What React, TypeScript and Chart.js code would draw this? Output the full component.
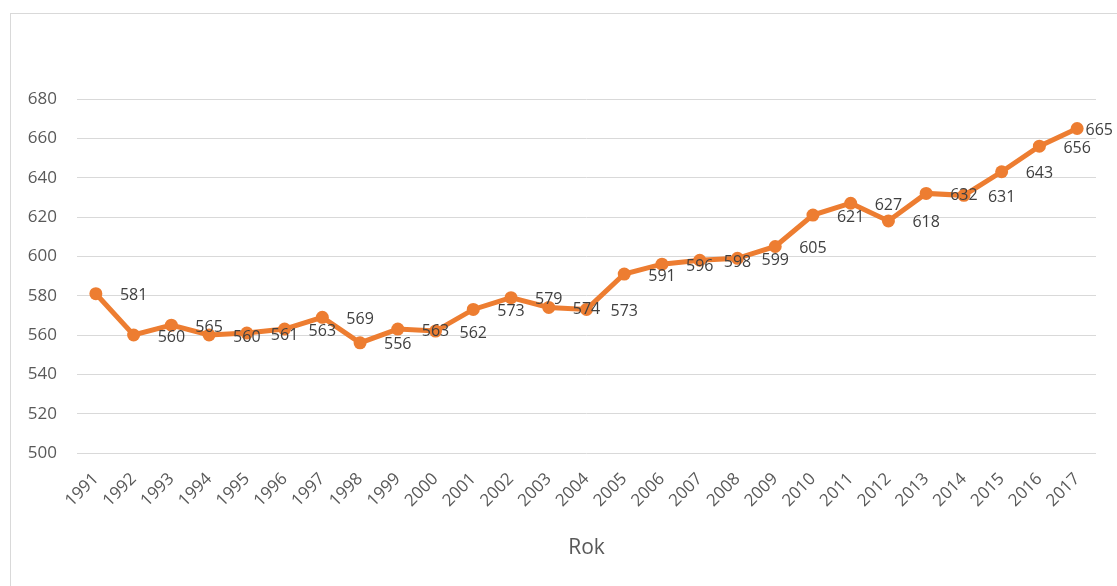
import React, { useEffect, useRef } from "react";
import { Chart, registerables } from "chart.js";

Chart.register(...registerables);

const years: string[] = [
  "1991", "1992", "1993", "1994", "1995", "1996", "1997", "1998", "1999", "2000",
  "2001", "2002", "2003", "2004", "2005", "2006", "2007", "2008", "2009", "2010",
  "2011", "2012", "2013", "2014", "2015", "2016", "2017",
];
const values: number[] = [
  581, 560, 565, 560, 561, 563, 569, 556, 563, 562,
  573, 579, 574, 573, 591, 596, 598, 599, 605, 621,
  627, 618, 632, 631, 643, 656, 665,
];
const yMin = 500;
const yMax = 680;
const yStep = 20;
const xTitle = "Rok";

const FONT = "'Open Sans', 'Noto Sans', sans-serif";

const labelPlugin = {
  id: "shiftedLabels",
  afterDatasetsDraw(chart: any) {
    const { ctx } = chart;
    const xs = chart.scales.x;
    const ys = chart.scales.y;
    const step = xs.getPixelForValue(1) - xs.getPixelForValue(0);
    ctx.save();
    ctx.font = `16px ${FONT}`;
    ctx.fillStyle = "#404040";
    ctx.textAlign = "center";
    ctx.textBaseline = "middle";
    values.forEach((v, i) => {
      let x = xs.getPixelForValue(i) + step;
      const w = ctx.measureText(String(v)).width;
      const maxX = chart.width - w / 2 - 4;
      if (x > maxX) x = maxX;
      const y = ys.getPixelForValue(v) + 2;
      ctx.fillText(String(v), x, y);
    });
    ctx.restore();
  },
};

export default function App() {
  const ref = useRef<HTMLCanvasElement | null>(null);

  useEffect(() => {
    if (!ref.current) return;
    const chart = new Chart(ref.current, {
      type: "line",
      data: {
        labels: years,
        datasets: [
          {
            data: values,
            borderColor: "#ED7D31",
            backgroundColor: "#ED7D31",
            borderWidth: 5,
            pointRadius: 6.5,
            pointBorderWidth: 0,
            pointBackgroundColor: "#ED7D31",
            tension: 0,
          },
        ],
      },
      options: {
        animation: false,
        responsive: false,
        maintainAspectRatio: false,
        layout: { padding: { left: 0, right: 21, top: 85, bottom: 21 } },
        plugins: {
          legend: { display: false },
          tooltip: { enabled: false },
          title: { display: false },
        },
        scales: {
          x: {
            type: "category",
            offset: true,
            grid: { display: false, drawTicks: false },
            border: { display: false },
            ticks: {
              autoSkip: false,
              minRotation: 45,
              maxRotation: 45,
              padding: 16,
              color: "#595959",
              font: { family: FONT, size: 17 },
            },
            title: {
              display: true,
              text: xTitle,
              color: "#595959",
              font: { family: FONT, size: 21 },
              padding: { top: 4, bottom: 4 },
            },
            afterFit: (s: any) => {
              s.height = 112;
            },
          },
          y: {
            min: yMin,
            max: yMax,
            grid: { color: "#d9d9d9", lineWidth: 1, drawTicks: false },
            border: { display: false },
            ticks: {
              stepSize: yStep,
              padding: 20,
              color: "#595959",
              font: { family: FONT, size: 17 },
            },
            afterFit: (s: any) => {
              s.width = 66;
            },
          },
        },
      },
      plugins: [labelPlugin],
    });
    return () => chart.destroy();
  }, []);

  return (
    <div
      style={{
        position: "absolute",
        left: 10,
        top: 13,
        width: 1150,
        height: 620,
        border: "1px solid #d9d9d9",
        boxSizing: "border-box",
        overflow: "hidden",
        background: "#fff",
      }}
    >
      <canvas
        ref={ref}
        width={1106}
        height={572}
        style={{ display: "block", width: 1106, height: 572 }}
      />
    </div>
  );
}
